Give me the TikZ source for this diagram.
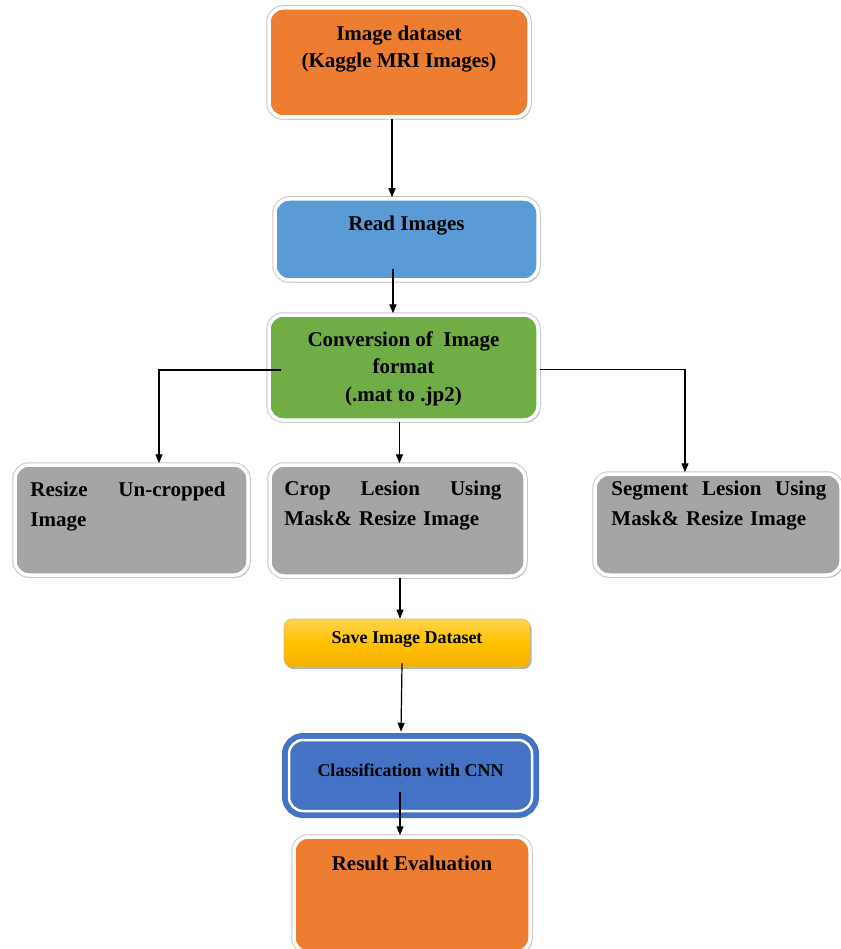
\documentclass[tikz,border=0pt]{standalone}
\usepackage{fontspec}
\setmainfont{Liberation Serif}
\usetikzlibrary{positioning,shadows,arrows.meta}
\definecolor{dataorange}{HTML}{ED7D31}
\definecolor{readblue}{HTML}{5B9BD5}
\definecolor{convgreen}{HTML}{70AD47}
\definecolor{stepgray}{HTML}{A5A5A5}
\definecolor{savetop}{HTML}{FFD54D}
\definecolor{savemid}{HTML}{FFC000}
\definecolor{savebot}{HTML}{F2B200}
\definecolor{classblue}{HTML}{4472C4}
\tikzset{
  procbox/.style={rectangle,rounded corners=14pt,inner sep=0pt,fill=#1,draw=white,line width=3.5pt,
    drop shadow={shadow xshift=2pt,shadow yshift=-2.5pt,fill=black,opacity=.3},
    preaction={draw=black!22,line width=5.5pt}},
  savebox/.style={rectangle,rounded corners=8pt,inner sep=0pt,draw=savebot!80!black!60,line width=.6pt,
    top color=savetop,bottom color=savebot,middle color=savemid,
    drop shadow={shadow xshift=1.5pt,shadow yshift=-2pt,fill=black,opacity=.3}},
  cnnbox/.style={rectangle,rounded corners=14pt,inner sep=0pt,fill=classblue,draw=white,line width=2.5pt,
    preaction={draw=classblue,line width=14pt}},
  boxtext/.style={inner sep=0pt,align=center,font=\fontsize{21}{27.5}\selectfont\bfseries},
  smalltext/.style={inner sep=0pt,font=\fontsize{18}{22}\selectfont\bfseries},
  graytext/.style={inner sep=0pt,align=left,text width=#1,font=\fontsize{21}{30}\selectfont\bfseries},
  arr/.style={-{Triangle[length=9pt,width=7pt]},line width=1.2pt}
}
\begin{document}
\begin{tikzpicture}[x=1pt,y=-1pt]
  \useasboundingbox (0,0) rectangle (840,949);
  % main column
  \node[procbox=dataorange,minimum width=260pt,minimum height=109pt] (data) at (399,62.5) {};
  \node[boxtext,below=19pt of data.north] (datatxt) {Image dataset\\(Kaggle MRI Images)};
  \node[procbox=readblue,minimum width=263pt,minimum height=81pt] (read) at (406.5,239.5) {};
  \node[boxtext,below=18pt of read.north] (readtxt) {Read Images};
  \node[procbox=convgreen,minimum width=269pt,minimum height=105pt] (conv) at (403.5,367.5) {};
  \node[boxtext,below=18pt of conv.north] (convtxt) {Conversion of~ Image\\format\\(.mat to .jp2)};
  % three branches
  \node[procbox=stepgray,minimum width=233pt,minimum height=110pt] (resize) at (131.5,520) {};
  \node[graytext=195pt,anchor=north west] (resizetxt) at ([xshift=17pt,yshift=-18pt]resize.north west)
    {Resize\hfill Un-cropped\\Image};
  \node[procbox=stepgray,minimum width=255pt,minimum height=111pt] (crop) at (397.5,520.5) {};
  \node[graytext=217pt,anchor=north west] (croptxt) at ([xshift=16pt,yshift=-17pt]crop.north west)
    {Crop\hfill Lesion\hfill Using\\Mask\& Resize Image};
  \node[procbox=stepgray,minimum width=246pt,minimum height=101pt] (seg) at (718,524.5) {};
  \node[graytext=215pt,anchor=north west] (segtxt) at ([xshift=18pt,yshift=-8pt]seg.north west)
    {Segment\hfill Lesion\hfill Using\\Mask\& Resize Image};
  % lower column
  \node[savebox,minimum width=246pt,minimum height=48pt] (save) at (407,643) {};
  \node[smalltext] (savetxt) at ([yshift=3pt]save.center) {Save Image Dataset};
  \node[cnnbox,minimum width=243pt,minimum height=71pt] (cnn) at (410.5,775.5) {};
  \node[smalltext] (cnntxt) at ([yshift=5.5pt]cnn.center) {Classification with CNN};
  \node[procbox=dataorange,minimum width=236pt,minimum height=115pt] (result) at (412,894.5) {};
  \node[boxtext,below=20pt of result.north] (resulttxt) {Result Evaluation};
  % connectors
  \draw[arr] ([xshift=-7pt]data.south) -- ([xshift=-7pt]data.south |- read.north);
  \draw[arr] ([xshift=-13.5pt,yshift=13pt]read.south) -- ([xshift=-10.5pt]conv.north);
  \draw[arr] ([xshift=14pt,yshift=-2.5pt]conv.west) -| ([xshift=27.5pt]resize.north);
  \draw[arr] ([yshift=-2pt]conv.east) -| ([xshift=-33pt]seg.north);
  \draw[arr] ([xshift=-4pt]conv.south) -- ([xshift=-4pt]conv.south |- crop.north);
  \draw[arr] ([xshift=2.5pt]crop.south) -- ([xshift=2.5pt]crop.south |- save.north);
  \draw[arr] ([xshift=-5pt,yshift=4pt]save.south) -- ([xshift=-9.5pt,yshift=7pt]cnn.north);
  \draw[arr] ([xshift=-10.5pt,yshift=-16.5pt]cnn.center) -- ([xshift=-12pt]result.north);
\end{tikzpicture}
\end{document}
